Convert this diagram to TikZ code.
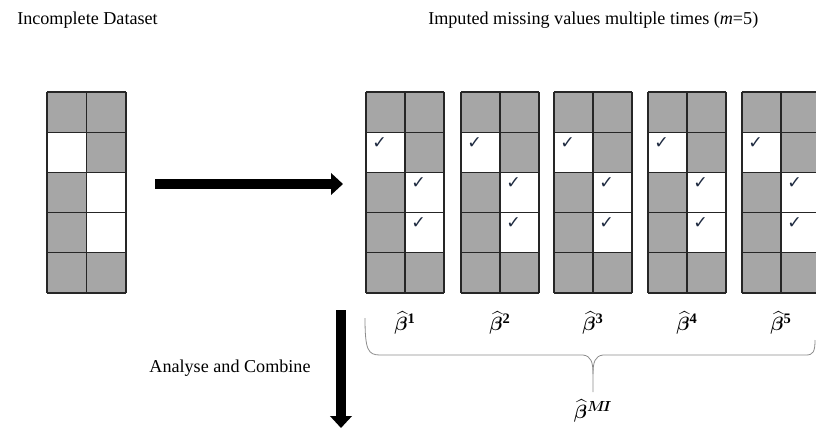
\documentclass[tikz,border=0pt]{standalone}
\usepackage{amsmath,bm}
\usepackage{fontspec}
\setmainfont{Liberation Serif}
\newfontfamily\symfont{DejaVu Sans}
\usetikzlibrary{arrows.meta}
\definecolor{cellgray}{HTML}{A6A6A6}
\definecolor{tickcol}{HTML}{1E2A40}
\tikzset{
  gridline/.style={draw=black!85, line width=0.9pt},
  titletext/.style={font=\fontsize{13.6}{15}\selectfont, inner sep=0pt},
  betatext/.style={font=\fontsize{15.5}{17}\selectfont, inner sep=0pt},
  tickmark/.style={font=\symfont\fontsize{13}{13}\selectfont, text=tickcol, inner sep=0pt, anchor=north west},
  bigarrow/.style={line width=7.5pt, -{Triangle[length=9pt 0, width=16pt 0]}},
  bracestyle/.style={draw=black!45, line width=0.6pt}
}
\begin{document}
\begin{tikzpicture}[x=0.75pt,y=-0.75pt]
\useasboundingbox (0,0) rectangle (816,429);
\clip (0,0) rectangle (816,429);

% titles
\node[titletext, anchor=west] (ttl1) at (17,20) {Incomplete Dataset};
\node[titletext, anchor=west] (ttl2) at (428,20) {Imputed missing values multiple times (\textit{m}=5)};

% incomplete dataset grid
\fill[cellgray] (47,92) rectangle ++(79,201);
\fill[white] (47,132.2) rectangle ++(39.5,40.2);
\fill[white] (86.5,172.4) rectangle ++(39.5,80.4);
\foreach \r in {0,...,5} \draw[gridline] (47,92+40.2*\r) -- ++(79,0);
\foreach \c in {0,1,2} \draw[gridline] (47+39.5*\c,92) -- ++(0,201);

% imputed grids
\foreach \gx [count=\gi] in {366,461,554,648,742} {
  \fill[cellgray] (\gx,92) rectangle ++(78,201);
  \fill[white] (\gx,132.2) rectangle ++(39,40.2);
  \fill[white] (\gx+39,172.4) rectangle ++(39,80.4);
  \foreach \r in {0,...,5} \draw[gridline] (\gx,92+40.2*\r) -- ++(78,0);
  \foreach \c in {0,1,2} \draw[gridline] (\gx+39*\c,92) -- ++(0,201);
  \node[tickmark] (tka\gi) at (\gx+6,137) {✓};
  \node[tickmark] (tkb\gi) at (\gx+45,177) {✓};
  \node[tickmark] (tkc\gi) at (\gx+45,217) {✓};
  \node[betatext] (beta\gi) at (\gx+39,323) {$\widehat{\bm{\beta}}^{\mathbf{\gi}}$};
}

% right arrow
\coordinate (ra1) at (155,184);
\coordinate (ra2) at (343,184);
\draw[bigarrow] (ra1) -- (ra2);

% down arrow
\coordinate (da1) at (341,310);
\coordinate (da2) at (341,428);
\draw[bigarrow] (da1) -- (da2);

\node[titletext] (analyse) at (230,368) {Analyse and Combine};

% brace
\draw[bracestyle] (365,318) .. controls (365,350) and (368,355) .. (380,355)
  -- (583,355) .. controls (591,356) and (593,362) .. (593,374) -- (593,392);
\draw[bracestyle] (593,374) .. controls (593,362) and (595,356) .. (603,355)
  -- (806,355) .. controls (813,355) and (815,352) .. (815,340);

\node[betatext] (betami) at (593,411) {$\widehat{\bm{\beta}}^{\bm{M\!I}}$};
\end{tikzpicture}
\end{document}
